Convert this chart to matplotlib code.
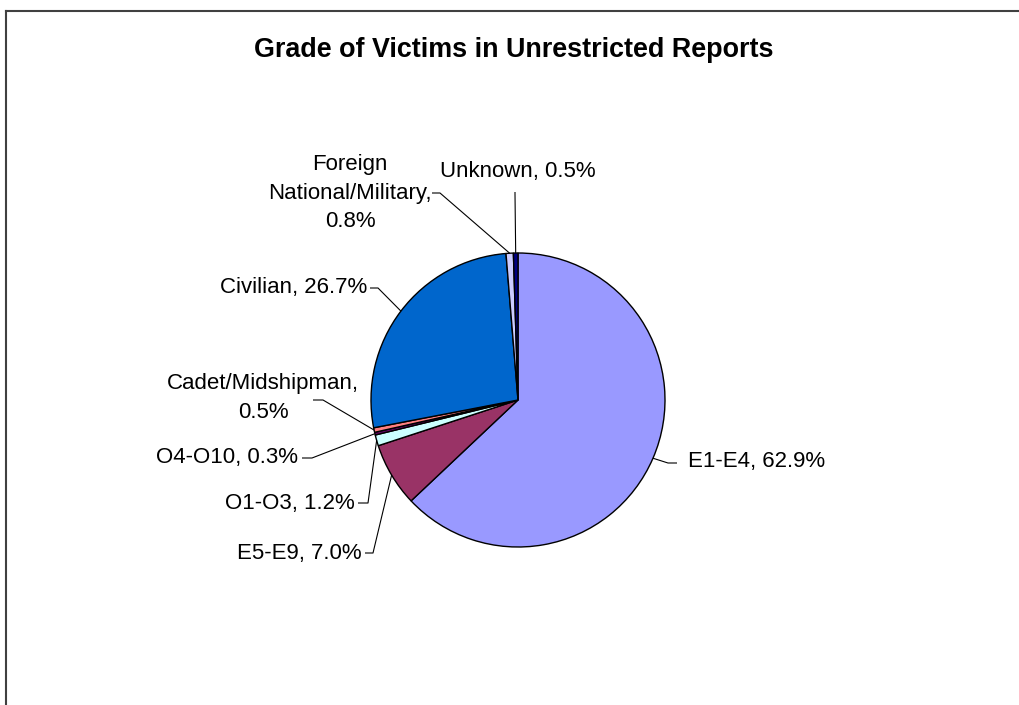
import numpy as np
import matplotlib
matplotlib.use("Agg")
import matplotlib.pyplot as plt
from matplotlib.lines import Line2D

plt.rcParams['font.family'] = ['Liberation Sans', 'DejaVu Sans']

categories = ["E1-E4", "E5-E9", "O1-O3", "O4-O10", "Cadet/Midshipman",
              "Civilian", "Foreign National/Military", "Unknown"]
values = [62.9, 7.0, 1.2, 0.3, 0.5, 26.7, 0.8, 0.5]
label_texts = ["E1-E4, 62.9%", "E5-E9, 7.0%", "O1-O3, 1.2%", "O4-O10, 0.3%",
               "Cadet/Midshipman,\n0.5%", "Civilian, 26.7%",
               "Foreign\nNational/Military,\n0.8%", "Unknown, 0.5%"]
colors = ["#9999FF", "#993366", "#CCFFFF", "#660066", "#FF8080",
          "#0066CC", "#CCCCFF", "#000080"]
title = "Grade of Victims in Unrestricted Reports"

W, H = 1019, 705
fig = plt.figure(figsize=(W / 100, H / 100), dpi=100)
ax = fig.add_axes([0, 0, 1, 1])
ax.set_xlim(0, W)
ax.set_ylim(0, H)
ax.set_aspect('equal')
ax.axis('off')

def py(y):  # pixel-from-top to data y
    return H - y

cx, cy, R = 518, py(400), 147
wedges, _ = ax.pie(values, colors=colors, startangle=90, counterclock=False,
                   center=(cx, cy), radius=R,
                   wedgeprops=dict(edgecolor='black', linewidth=1.0))
ax.set_xlim(0, W)
ax.set_ylim(0, H)

# label layout: text anchor (px), ha, elbow start/end (px)
layout = [
    dict(xy=(688, 462), ha='left',   seg=[(677, 463), (668, 463)]),
    dict(xy=(362, 553), ha='right',  seg=[(365, 553), (373, 553)]),
    dict(xy=(355, 503), ha='right',  seg=[(358, 503), (368, 503)]),
    dict(xy=(298, 458), ha='right',  seg=[(302, 458), (312, 458)]),
    dict(xy=(263, 398), ha='center', seg=[(313, 400), (323, 400)]),
    dict(xy=(367, 288), ha='right',  seg=[(370, 288), (378, 288)]),
    dict(xy=(350, 193), ha='center', seg=[(432, 193), (440, 193)]),
    dict(xy=(518, 172), ha='center', seg=[(515, 192), (515, 194)]),
]

total = sum(values)
cum = 0.0
for v, txt, lay in zip(values, label_texts, layout):
    mid = cum + v / 2
    cum += v
    ang = np.deg2rad(90 - 360 * mid / total)
    ex, ey = cx + R * np.cos(ang), cy + R * np.sin(ang)
    pts = [(x, py(y)) for x, y in lay['seg']] + [(ex, ey)]
    xs, ys = zip(*pts)
    ax.plot(xs, ys, color='black', lw=0.8, solid_capstyle='butt')
    ax.text(lay['xy'][0], py(lay['xy'][1]), txt, ha=lay['ha'], va='center',
            fontsize=16, linespacing=1.45, color='black')

fig.text(514 / W, 1 - 50 / H, title, ha='center', va='center',
         fontsize=19.4, fontweight='bold', color='black')

# chart-area border (top and left visible)
fig.add_artist(Line2D([6 / W, 6 / W], [0, 1 - 11 / H], transform=fig.transFigure,
                      color='#404040', lw=1.5))
fig.add_artist(Line2D([6 / W, 1], [1 - 11 / H, 1 - 11 / H], transform=fig.transFigure,
                      color='#404040', lw=1.5))

fig.savefig("out.png", dpi=100, facecolor='white')
